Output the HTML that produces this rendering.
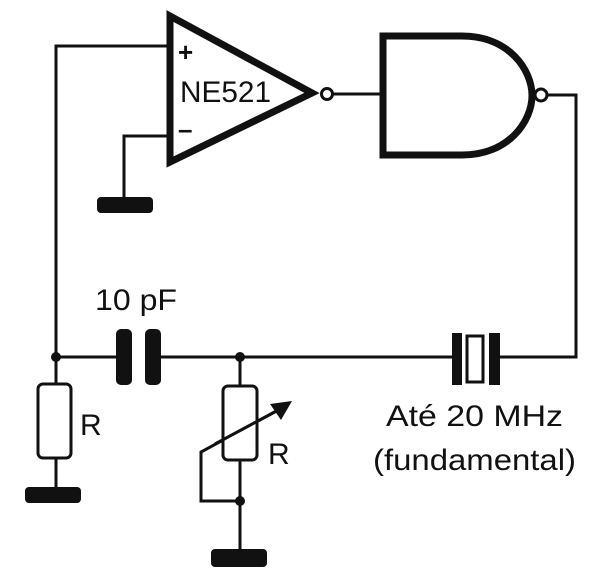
<!DOCTYPE html>
<html><head><meta charset="utf-8"><style>html,body{margin:0;padding:0;background:#fff}svg{display:block}</style></head>
<body>
<svg width="611" height="584" viewBox="0 0 611 584" xmlns="http://www.w3.org/2000/svg" font-family="Liberation Sans, Arial, sans-serif">
<g fill="none" stroke="#111" stroke-width="3">
<polyline points="170,46 56,46 56,357"/>
<polyline points="170,136 124,136 124,200"/>
<line x1="332" y1="94" x2="382" y2="94"/>
<polyline points="546,95 576,95 576,357 498,357"/>
<line x1="56" y1="357" x2="120" y2="357"/>
<line x1="158" y1="357" x2="455" y2="357"/>
<line x1="56" y1="357" x2="56" y2="384"/>
<line x1="56" y1="458" x2="56" y2="490"/>
<line x1="240" y1="357" x2="240" y2="386"/>
<line x1="240" y1="460" x2="240" y2="552"/>
<polyline points="240,501 201,501 201,452 282,408"/>
</g>
<polygon points="170,16 170,162 312,93" fill="none" stroke="#111" stroke-width="7" stroke-linejoin="miter"/>
<circle cx="327" cy="94" r="5.5" fill="#fff" stroke="#111" stroke-width="3"/>
<text x="178" y="61" font-size="26" font-weight="bold" fill="#111">+</text>
<text x="178" y="138" font-size="26" font-weight="bold" fill="#111">–</text>
<text x="180" y="102" font-size="30" fill="#111" textLength="91" lengthAdjust="spacingAndGlyphs">NE521</text>
<path d="M383,36 L462,36 C509,36 532,70 532,95.5 C532,121 509,155 462,155 L383,155 Z" fill="none" stroke="#111" stroke-width="7"/>
<circle cx="541" cy="95" r="6" fill="#fff" stroke="#111" stroke-width="3"/>
<rect x="97" y="197" width="56" height="16" rx="4" fill="#111"/>
<rect x="25" y="487" width="56" height="16" rx="4" fill="#111"/>
<rect x="211" y="549" width="56" height="18" rx="4" fill="#111"/>
<rect x="116" y="329" width="16" height="56" rx="5" fill="#111"/>
<rect x="145" y="329" width="16" height="56" rx="5" fill="#111"/>
<text x="95" y="310" font-size="30" fill="#111" textLength="82" lengthAdjust="spacingAndGlyphs">10 pF</text>
<circle cx="56" cy="357" r="5" fill="#111"/>
<circle cx="240" cy="357" r="5" fill="#111"/>
<circle cx="240" cy="501" r="5" fill="#111"/>
<rect x="38" y="384" width="33" height="74" rx="5" fill="#fff" stroke="#111" stroke-width="3"/>
<text x="80" y="435" font-size="30" fill="#111">R</text>
<rect x="223" y="386" width="34" height="74" rx="5" fill="#fff" stroke="#111" stroke-width="3"/>
<line x1="215" y1="444" x2="282" y2="408" stroke="#111" stroke-width="3"/>
<polygon points="292,401 270,404 281,420" fill="#111"/>
<text x="268" y="464" font-size="30" fill="#111">R</text>
<rect x="452" y="333" width="10" height="52" fill="#111"/>
<rect x="467" y="336" width="16" height="46" fill="#fff" stroke="#111" stroke-width="3"/>
<rect x="489" y="333" width="11" height="52" fill="#111"/>
<text x="386" y="426" font-size="30" fill="#111" textLength="177" lengthAdjust="spacingAndGlyphs">Até 20 MHz</text>
<text x="373" y="470" font-size="30" fill="#111" textLength="203" lengthAdjust="spacingAndGlyphs">(fundamental)</text>
</svg>
</body></html>
